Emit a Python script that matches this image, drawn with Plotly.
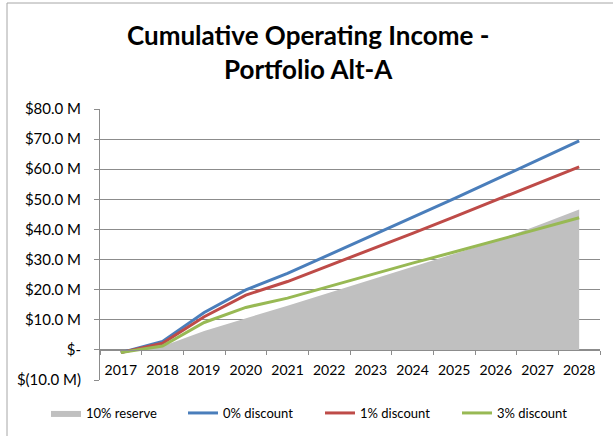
import plotly.graph_objects as go

years = ["2017", "2018", "2019", "2020", "2021", "2022", "2023", "2024", "2025", "2026", "2027", "2028"]
reserve_10 = [-0.9, 1.2, 6.3, 10.4, 14.7, 19.0, 23.3, 27.8, 32.0, 36.2, 41.3, 46.6]
discount_0 = [-0.9, 2.8, 12.4, 19.9, 25.4, 31.6, 37.8, 43.9, 50.2, 56.6, 63.0, 69.4]
discount_1 = [-0.9, 2.2, 11.0, 18.2, 22.7, 28.0, 33.3, 38.7, 44.2, 49.7, 55.3, 60.8]
discount_3 = [-0.9, 1.3, 9.1, 14.1, 17.2, 21.1, 24.9, 28.8, 32.5, 36.3, 40.1, 43.9]

y_tick_vals = [-10, 0, 10, 20, 30, 40, 50, 60, 70, 80]
y_tick_text = ["$(10.0 M)", "$-", "$10.0 M", "$20.0 M", "$30.0 M", "$40.0 M",
               "$50.0 M", "$60.0 M", "$70.0 M", "$80.0 M"]

FONT = "Lato"
GRID = "#8C8C8C"

fig = go.Figure()
fig.add_trace(go.Scatter(x=years, y=reserve_10, name="10% reserve", mode="lines",
                         line=dict(width=0, color="#C0C0C0"), fill="tozeroy",
                         fillcolor="#C0C0C0"))
fig.add_trace(go.Scatter(x=years, y=discount_0, name="0% discount", mode="lines",
                         line=dict(width=3, color="#4A7EBB")))
fig.add_trace(go.Scatter(x=years, y=discount_1, name="1% discount", mode="lines",
                         line=dict(width=3, color="#BE4B48")))
fig.add_trace(go.Scatter(x=years, y=discount_3, name="3% discount", mode="lines",
                         line=dict(width=3, color="#98B954")))

fig.update_layout(
    width=613, height=436,
    margin=dict(l=100, r=13, t=109, b=56, autoexpand=False),
    paper_bgcolor="white", plot_bgcolor="white",
    font=dict(family=FONT, size=13, color="black"),
    showlegend=True,
    legend=dict(orientation="h", xref="paper", yref="paper",
                x=(46 - 100) / 500, xanchor="left", y=(380 - 413) / 271, yanchor="middle",
                font=dict(family=FONT, size=13), entrywidth=92, entrywidthmode="pixels",
                itemwidth=30, traceorder="normal", bgcolor="rgba(0,0,0,0)"),
    xaxis=dict(type="category", tickson="boundaries", ticks="outside", ticklen=4,
               tickcolor=GRID, showline=True, linecolor=GRID, linewidth=1,
               showgrid=False, anchor="free", position=10 / 90,
               tickfont=dict(family=FONT, size=14), ticklabelstandoff=7,
               range=[-0.5, 11.5]),
    yaxis=dict(range=[-10, 80], tickvals=y_tick_vals, ticktext=y_tick_text,
               showgrid=True, gridcolor=GRID, gridwidth=1, zeroline=False,
               showline=True, linecolor=GRID, linewidth=1,
               ticks="outside", ticklen=5, tickcolor=GRID,
               tickfont=dict(family=FONT, size=15), ticklabelstandoff=10),
)

fig.add_annotation(text="<b>Cumulative Operating Income -<br>Portfolio Alt-A</b>",
                   xref="paper", yref="paper", x=(308 - 100) / 500, y=(380 - 52) / 271,
                   xanchor="center", yanchor="middle", showarrow=False,
                   font=dict(family=FONT, size=26, color="black"))

# chart border
fig.add_shape(type="rect", xref="paper", yref="paper",
              x0=(7 - 100) / 500, x1=(620 - 100) / 500,
              y0=(380 - 445) / 271, y1=(380 - 3) / 271,
              line=dict(color="#A6A6A6", width=1), layer="below")

fig.write_html("out.html", config={"displayModeBar": False},
               post_script="document.body.style.margin='0';")
